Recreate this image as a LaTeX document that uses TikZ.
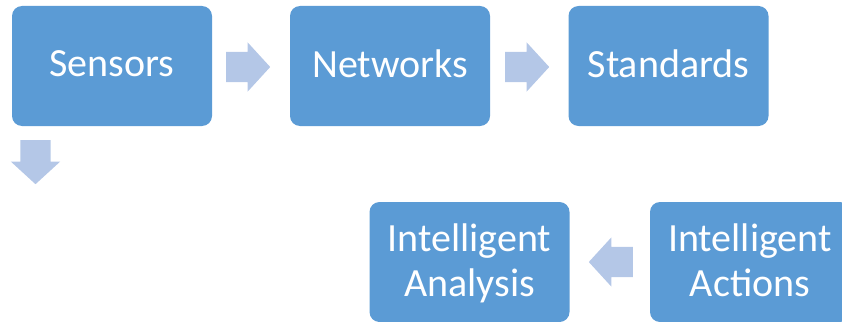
\documentclass[tikz,border=0pt]{standalone}
\usepackage{fontspec}
\setmainfont{Carlito}
\usetikzlibrary{shapes.arrows}

\definecolor{boxblue}{HTML}{5B9BD5}
\definecolor{arrowblue}{HTML}{B4C7E7}

\tikzset{
    stagebox/.style={rectangle, rounded corners=10pt, fill=boxblue, text=white,
        minimum width=200pt, minimum height=120pt, align=center, inner sep=0pt,
        font=\fontsize{40}{45}\selectfont, text depth=4pt},
    flowarrow/.style={single arrow, fill=arrowblue, draw=none, anchor=tail,
        inner xsep=0pt, inner ysep=15pt, minimum height=44pt,
        single arrow head extend=9.5pt, single arrow tip angle=95},
    downarrow/.style={flowarrow, shape border rotate=270,
        inner xsep=15pt, inner ysep=0pt}
}

\begin{document}
\begin{tikzpicture}[x=1pt, y=-1pt]
    \clip (0,0) rectangle (842,321);

    % Stages
    \node[stagebox] (sensors) at (112, 66) {Sensors};
    \node[stagebox] (networks) at (390, 66) {Networks};
    \node[stagebox] (standards) at (668.5, 66) {Standards};
    \node[stagebox] (analysis) at (469.5, 262) {Intelligent\\Analysis};
    \node[stagebox] (actions) at (750, 262) {Intelligent\\Actions};

    % Block arrows between the stages
    \node[flowarrow] (sensorsnet) at (226, 67) {};
    \node[flowarrow] (netstd) at (505, 67) {};
    \node[downarrow] (sensorsdown) at (35.5, 140) {};
    \node[flowarrow, shape border rotate=180] (actionsback) at (633, 262) {};
\end{tikzpicture}
\end{document}
